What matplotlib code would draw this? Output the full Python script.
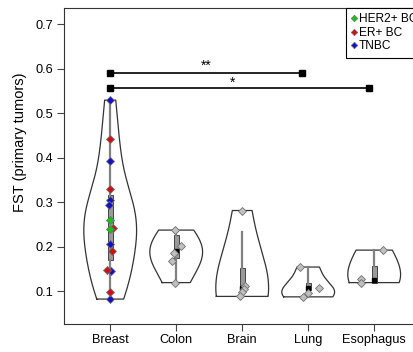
import numpy as np
import matplotlib
matplotlib.use("Agg")
import matplotlib.pyplot as plt
from matplotlib.lines import Line2D

plt.rcParams['font.family'] = ['Liberation Sans', 'DejaVu Sans']

categories = ['Breast', 'Colon', 'Brain', 'Lung', 'Esophagus']

# FST values per primary tumour
breast_tnbc = [0.529, 0.393, 0.304, 0.293, 0.205, 0.146, 0.082]
breast_er = [0.442, 0.330, 0.242, 0.191, 0.147, 0.099]
breast_her2 = [0.259, 0.240]
colon = [0.237, 0.201, 0.186, 0.167, 0.119]
brain = [0.281, 0.112, 0.105, 0.098, 0.088]
lung = [0.154, 0.106, 0.095, 0.087]
esophagus = [0.192, 0.128, 0.119]

# box summaries: lower quartile, median, upper quartile, whisker low, whisker high
box_q1 = [0.170, 0.174, 0.107, 0.102, 0.119]
box_med = [0.242, 0.190, 0.108, 0.106, 0.124]
box_q3 = [0.316, 0.226, 0.152, 0.119, 0.156]
whisk_lo = [0.082, 0.119, 0.088, 0.087, 0.119]
whisk_hi = [0.529, 0.237, 0.233, 0.154, 0.192]

# kernel bandwidth used for each violin outline
kde_bw = [0.06, 0.04, 0.09, 0.025, 0.045]

# significance brackets (start group, end group, label)
sig_start = [1, 1]
sig_end = [3.91, 4.92]
sig_level = [0.590, 0.556]
sig_label = ['**', '*']
sig_text_x = [2.45, 2.86]
sig_text_y = [0.606, 0.567]

# horizontal scatter of the points around each group centre
jit_tnbc = [0.0, 0.0, -0.01, -0.02, 0.0, 0.01, 0.0]
jit_er = [0.0, 0.0, 0.04, 0.02, -0.05, 0.0]
jit_her2 = [0.0, -0.01]
jit_other = [
    [-0.015, 0.075, -0.03, -0.06, -0.015],
    [0.0, 0.05, 0.03, -0.01, -0.04],
    [-0.12, 0.17, 0.0, -0.08],
    [0.13, -0.2, -0.2],
]

breast_all = breast_tnbc + breast_er + breast_her2
groups = [breast_all, colon, brain, lung, esophagus]
positions = np.arange(1, len(categories) + 1)

fig = plt.figure(figsize=(4.14, 3.52), dpi=100)
ax_w_px = 5.6 * 66
ax = fig.add_axes([64 / 414, 1 - 324 / 352, ax_w_px / 414, (324 - 8) / 352])


def kde_outline(vals, h, half_width=0.40):
    v = np.asarray(vals, float)
    grid = np.linspace(v.min(), v.max(), 200)
    dens = np.exp(-0.5 * ((grid[:, None] - v[None, :]) / h) ** 2).sum(axis=1)
    dens = dens / dens.max() * half_width
    return grid, dens


for pos, vals, h in zip(positions, groups, kde_bw):
    g, d = kde_outline(vals, h)
    xs = np.concatenate([pos - d, (pos + d)[::-1], [pos - d[0]]])
    ys = np.concatenate([g, g[::-1], [g[0]]])
    ax.plot(xs, ys, color='#333333', lw=0.9, zorder=2)

# inner box plots
stats = []
for i in range(len(categories)):
    stats.append(dict(med=box_med[i], q1=box_q1[i], q3=box_q3[i],
                      whislo=whisk_lo[i], whishi=whisk_hi[i], fliers=[]))
ax.bxp(stats, positions=positions, widths=0.08, patch_artist=True,
       showcaps=False, showfliers=False,
       boxprops=dict(facecolor='#9a9a9a', edgecolor='#444444', lw=0.7),
       whiskerprops=dict(color='#808080', lw=1.6),
       medianprops=dict(color='black', lw=0), zorder=3,
       manage_ticks=False)
ax.plot(positions[1:], box_med[1:], 's', color='black', ms=3.5, zorder=4)

# points
mk = dict(marker='D', ms=4.2, mec='#707070', mew=0.6, ls='none', zorder=5)
for pos, vals, jit in zip(positions[1:], groups[1:], jit_other):
    ax.plot(pos + np.array(jit), vals, mfc='#c0c0c0', **mk)
ax.plot(1 + np.array(jit_tnbc), breast_tnbc, mfc='#1010c8', **mk)
ax.plot(1 + np.array(jit_er), breast_er, mfc='#d01010', **mk)
ax.plot(1 + np.array(jit_her2), breast_her2, mfc='#10c810', **mk)

# significance brackets
for x0, x1, yv, lab, tx, ty in zip(sig_start, sig_end, sig_level, sig_label,
                                   sig_text_x, sig_text_y):
    ax.plot([x0, x1], [yv, yv], '-', color='black', lw=1.2,
            marker='s', ms=4, zorder=6)
    ax.text(tx, ty, lab, ha='center', va='center', fontsize=10)

ax.set_xlim(0.3, 5.9)
ax.set_ylim(0.026, 0.736)
ax.set_xticks(positions)
ax.set_xticklabels(categories)
ax.set_yticks([0.1, 0.2, 0.3, 0.4, 0.5, 0.6, 0.7])
ax.tick_params(direction='out', length=5, width=0.8, labelsize=9.2,
               color='#444444', pad=3)
ax.tick_params(axis='x', pad=2)
ax.set_ylabel('FST (primary tumors)', fontsize=10.5)
ax.yaxis.set_label_coords((27 - 64) / ax_w_px, 0.576)
for s in ax.spines.values():
    s.set_linewidth(0.8)
    s.set_color('#333333')

legend_colors = ['#10c810', '#d01010', '#1010c8']
legend_labels = ['HER2+ BC', 'ER+ BC', 'TNBC']
handles = [Line2D([], [], marker='D', ls='none', ms=3.3, mfc=c,
                  mec='#707070', mew=0.5) for c in legend_colors]
leg = ax.legend(handles, legend_labels, loc='upper left',
                bbox_to_anchor=((346 - 64) / ax_w_px, 1.0),
                borderaxespad=0, fancybox=False, framealpha=1,
                edgecolor='black', handlelength=0.4, handletextpad=0.25,
                borderpad=0.45, labelspacing=0.12, fontsize=8.6)
leg.get_frame().set_linewidth(0.8)

fig.savefig('out.png', dpi=100)
